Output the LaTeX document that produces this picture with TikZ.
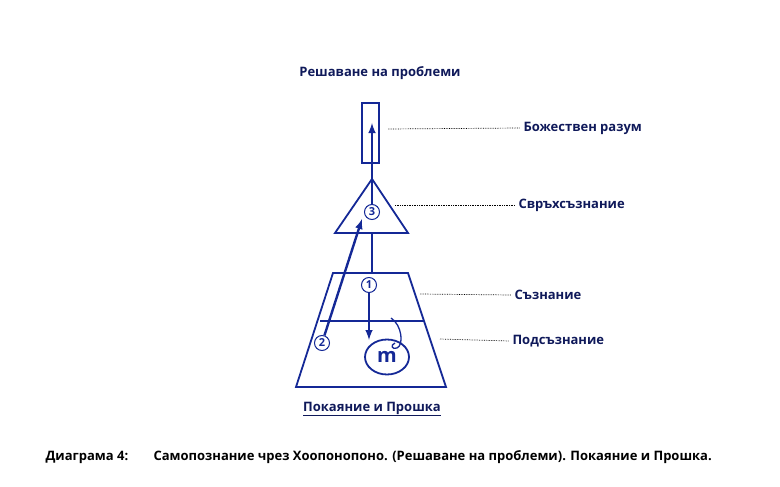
\documentclass[tikz,border=0pt]{standalone}
\usepackage{fontspec}
\setmainfont{Open Sans}
\usetikzlibrary{positioning,shapes.geometric}
\definecolor{navy}{RGB}{20,40,150}
\definecolor{ink}{RGB}{15,25,90}
\tikzset{
	outline/.style={draw=navy, line width=1.8pt},
	flow/.style={draw=navy, line width=2.4pt, -latex},
	num/.style={circle, draw=navy, fill=white, line width=1pt, inner sep=1pt, minimum size=15pt, font=\fontsize{11}{11}\selectfont\bfseries, text=navy},
	lead/.style={densely dotted, line width=0.7pt},
	lbl/.style={anchor=west, font=\fontsize{13}{14}\selectfont\bfseries, text=ink}
}
\begin{document}
\begin{tikzpicture}[x=1pt,y=-1pt]
		\useasboundingbox (0,0) rectangle (780,487);
		% shapes
		\draw[outline] (362,103) rectangle (379,163);
		\draw[outline] (372,179) -- (408,233) -- (335,233) -- cycle;
		\draw[outline] (333,273) -- (408,273) -- (446,387) -- (296,387) -- cycle;
		\draw[outline] (320,321) -- (424,321);
		\draw[outline] (372,233) -- (372,273);
		
		\node[outline, ellipse, minimum width=44pt, minimum height=35pt, inner sep=0pt, font=\fontsize{20}{20}\selectfont\bfseries\rmfamily, text=navy] (m) at (387,357) {m};
		\draw[navy, line width=1.3pt] (391,318) .. controls (402,325) and (404,345) .. (397,348) .. controls (392,350) and (390,345) .. (395,343);
		
		\node[num] (n1) at (369,285) {1};
		\node[num] (n2) at (322,343) {2};
		\node[num] (n3) at (372,212) {3};
		\coordinate (top) at (372,123);
		\coordinate (down) at (369,340);
		\coordinate (tip) at (362,219);
		
		\draw[flow] (n1) -- (down);
		\draw[flow] (n2) -- (tip);
		\draw[flow] (n3) -- (top);
		
		% labels
		\node[font=\fontsize{13}{14}\selectfont\bfseries, text=ink] (title) at (380,73) {Решаване на проблеми};
		\node[lbl] (l1) at (520,128) {Божествен разум};
		\node[lbl] (l2) at (515,205) {Свръхсъзнание};
		\node[lbl] (l3) at (511,295) {Съзнание};
		\node[lbl] (l4) at (509,341) {Подсъзнание};
		\draw[lead] (388,129) -- (l1.west);
		\draw[lead] (395,205) -- (l2.west);
		\draw[lead] (420,294) -- (l3.west);
		\draw[lead] (440,339) -- (l4.west);
		\node[font=\fontsize{13}{14}\selectfont\bfseries, text=ink, inner sep=1pt] (bot) at (372,409) {\underline{Покаяние и Прошка}};
		
		\node[anchor=west, font=\fontsize{13}{14}\selectfont\bfseries] (cap) at (42,457) {Диаграма 4:};
		\node[anchor=west, font=\fontsize{13}{14}\selectfont\bfseries] (capt) at (150,457) {Самопознание чрез Хоопонопоно. (Решаване на проблеми). Покаяние и Прошка.};
\end{tikzpicture}
\end{document}
